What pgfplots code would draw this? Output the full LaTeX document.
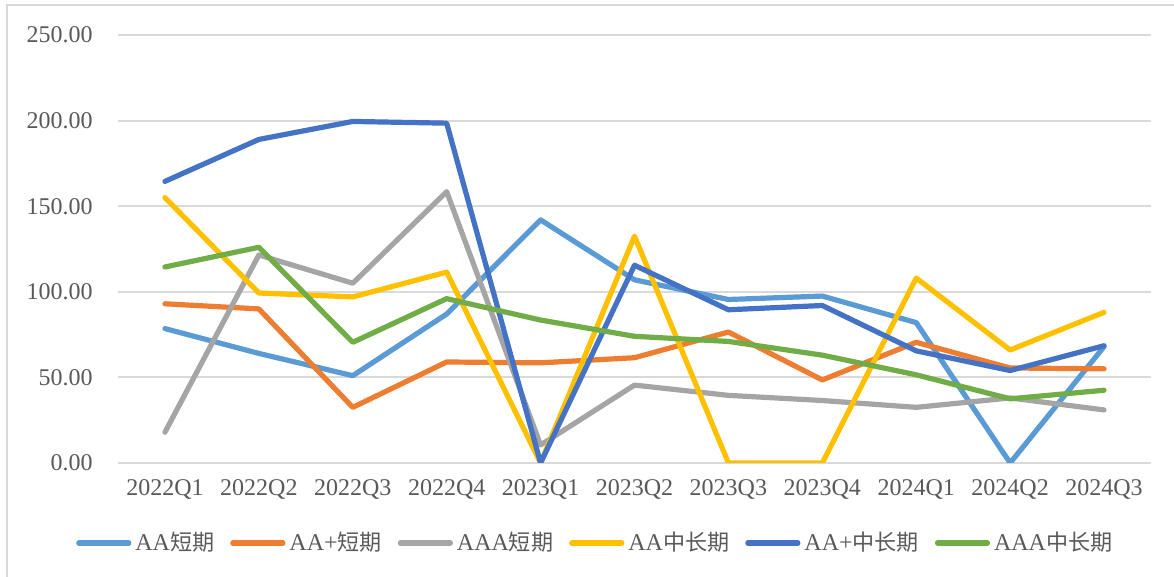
\documentclass[border=0pt]{standalone}
\usepackage{pgfplots}
\pgfplotsset{compat=1.18}
\usepackage{fontspec}
\setmainfont{Liberation Serif}
\newfontfamily\cjk{Noto Sans CJK SC}[Scale=0.92]
\definecolor{cA}{HTML}{5B9BD5}
\definecolor{cB}{HTML}{ED7D31}
\definecolor{cC}{HTML}{A5A5A5}
\definecolor{cD}{HTML}{FFC000}
\definecolor{cE}{HTML}{4472C4}
\definecolor{cF}{HTML}{70AD47}
\definecolor{txt}{HTML}{595959}
\definecolor{grid}{HTML}{D9D9D9}
\begin{document}
\begin{tikzpicture}
\path[use as bounding box] (0pt,0pt) rectangle (587pt,288.5pt);
\draw[grid,line width=1pt] (3.5pt,0pt) -- (3.5pt,285.75pt) -- (587pt,285.75pt);
\begin{axis}[
  at={(59pt,57pt)}, anchor=south west,
  scale only axis, width=516.5pt, height=214pt,
  xmin=-0.5, xmax=10.5, ymin=0, ymax=250,
  xtick={0,...,10},
  xticklabels={2022Q1,2022Q2,2022Q3,2022Q4,2023Q1,2023Q2,2023Q3,2023Q4,2024Q1,2024Q2,2024Q3},
  ytick={0,50,...,250},
  axis lines*=left,
  x axis line style={draw=none}, y axis line style={draw=none},
  major tick length=0pt, tick style={draw=none},
  xmajorgrids=false, ymajorgrids=true,
  y grid style={grid,line width=1pt},
  tick label style={font=\fontsize{12}{14}\selectfont, text=txt},
  yticklabel style={inner sep=0pt, xshift=-12.5pt},
  xticklabel style={inner sep=0pt, yshift=-8pt},
  /pgf/number format/.cd, fixed, fixed zerofill, precision=2, assume math mode=true,
  /pgfplots/.cd,
  legend columns=6,
  legend style={at={(0.463,-0.187)}, anchor=center, draw=none, fill=none,
    font=\fontsize{12}{14}\selectfont, text=txt,
    /tikz/every even column/.append style={column sep=6pt},
    inner sep=0pt},
  legend image code/.code={\draw[#1, line width=2.6pt, line cap=round] (0,0) -- (25pt,0);},
  every axis plot/.append style={line width=2.6pt, line join=round, line cap=round, mark=none},
]
\addplot[cA] coordinates {(0,78.5)(1,64)(2,51)(3,87)(4,142)(5,107)(6,95.5)(7,97.5)(8,82)(9,0)(10,68)};
\addlegendentry{AA{\cjk 短期}}
\addplot[cB] coordinates {(0,93)(1,90)(2,32.5)(3,59)(4,58.5)(5,61.5)(6,76.5)(7,48.5)(8,70.5)(9,55.5)(10,55)};
\addlegendentry{AA+{\cjk 短期}}
\addplot[cC] coordinates {(0,18)(1,121.5)(2,105)(3,158.5)(4,10.5)(5,45.5)(6,39.5)(7,36.5)(8,32.5)(9,38)(10,31)};
\addlegendentry{AAA{\cjk 短期}}
\addplot[cD] coordinates {(0,155)(1,99.3)(2,97)(3,111.5)(4,0)(5,132.5)(6,0)(7,0)(8,108)(9,66)(10,88)};
\addlegendentry{AA{\cjk 中长期}}
\addplot[cE] coordinates {(0,164.5)(1,189)(2,199.5)(3,198.5)(4,0)(5,115.5)(6,89.5)(7,92)(8,65.5)(9,54)(10,68.5)};
\addlegendentry{AA+{\cjk 中长期}}
\addplot[cF] coordinates {(0,114.5)(1,126)(2,70.5)(3,96)(4,83.5)(5,74)(6,71)(7,63)(8,51.5)(9,37.5)(10,42.5)};
\addlegendentry{AAA{\cjk 中长期}}
\end{axis}
\end{tikzpicture}
\end{document}
